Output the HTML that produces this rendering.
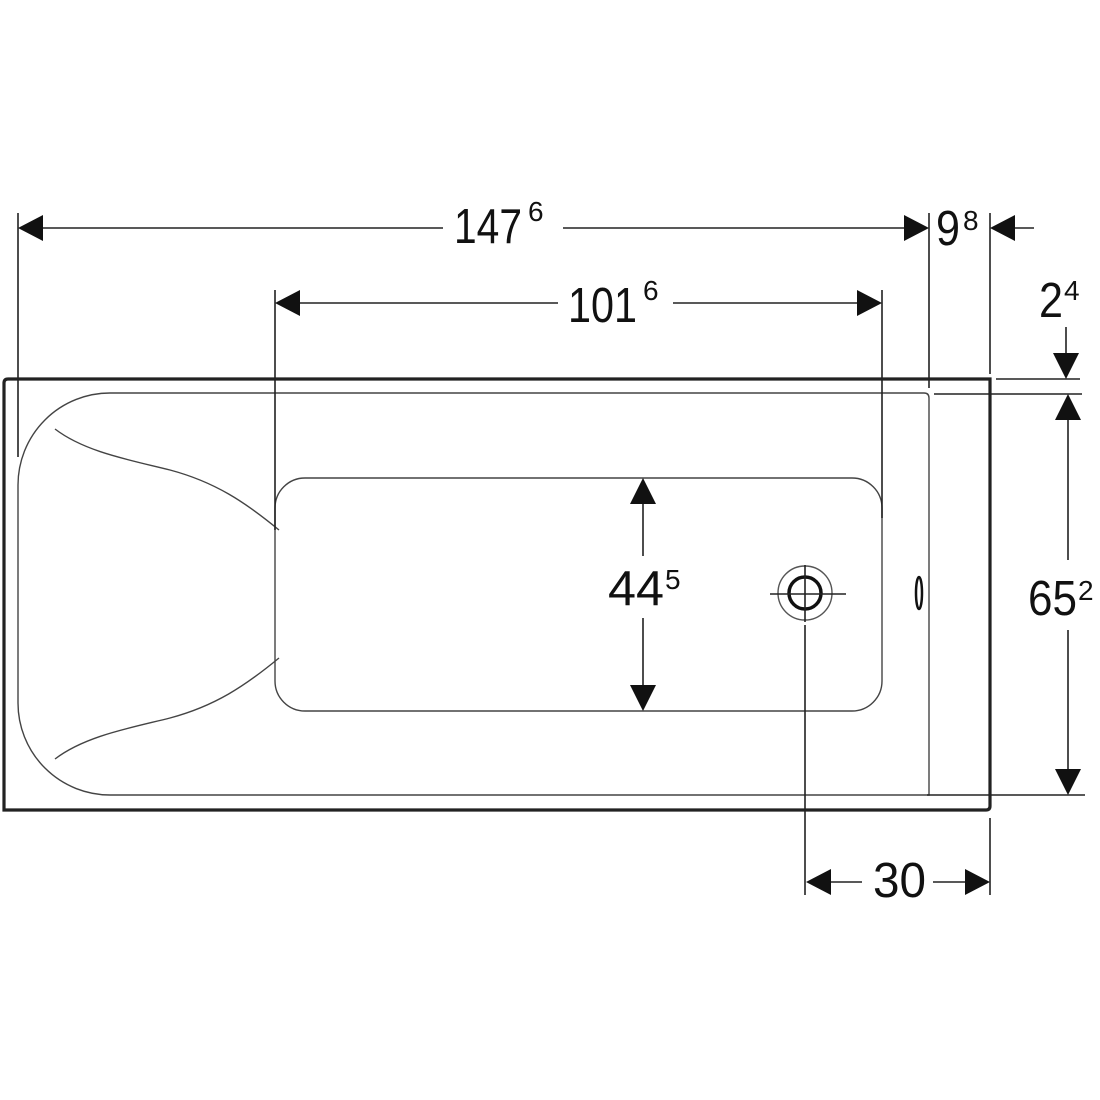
<!DOCTYPE html>
<html><head><meta charset="utf-8"><style>html,body{margin:0;padding:0;background:#fff}svg{display:block}text{font-family:"Liberation Sans",Arial,sans-serif;fill:#111}</style></head>
<body>
<svg width="1100" height="1100" viewBox="0 0 1100 1100" xmlns="http://www.w3.org/2000/svg">
<g fill="none" stroke="#222" stroke-width="1.6">
<path d="M990 379 V806 Q990 810 986 810 H4 V383 Q4 379 8 379 Z" stroke-width="3.2"/>
<path d="M110 393 H924 Q929 393 929 398 V795 H110 A92 92 0 0 1 18 703 V485 A92 92 0 0 1 110 393 Z" stroke="#444" stroke-width="1.4"/>
<rect x="275" y="478" width="607" height="233" rx="30" stroke="#444" stroke-width="1.4"/>
<path d="M55 429 C85 452 130 460 170 470 C215 482 245 502 279 530" stroke="#444" stroke-width="1.4"/>
<path d="M55 759 C85 736 130 728 170 718 C215 706 245 686 279 658" stroke="#444" stroke-width="1.4"/>
<circle cx="805" cy="593" r="27" stroke="#555" stroke-width="1.4"/>
<circle cx="805" cy="593" r="16" stroke="#111" stroke-width="3.5"/>
<line x1="770" y1="594" x2="846" y2="594"/>
<line x1="805" y1="565" x2="805" y2="622"/>
<line x1="805" y1="625" x2="805" y2="895"/>
<ellipse cx="919" cy="593" rx="3" ry="16" stroke="#111" stroke-width="2.5"/>
<line x1="18" y1="213" x2="18" y2="457"/>
<line x1="929" y1="213" x2="929" y2="388"/>
<line x1="990" y1="213" x2="990" y2="374"/>
<line x1="275" y1="290" x2="275" y2="530"/>
<line x1="882" y1="290" x2="882" y2="518"/>
<line x1="990" y1="818" x2="990" y2="895"/>
<line x1="996" y1="379" x2="1080" y2="379"/>
<line x1="934" y1="394" x2="1082" y2="394"/>
<line x1="927" y1="795" x2="1085" y2="795"/>
<line x1="30" y1="228" x2="443" y2="228"/>
<line x1="563" y1="228" x2="905" y2="228"/>
<line x1="1010" y1="228" x2="1034" y2="228"/>
<line x1="290" y1="303" x2="558" y2="303"/>
<line x1="673" y1="303" x2="865" y2="303"/>
<line x1="1066" y1="327" x2="1066" y2="360"/>
<line x1="1068" y1="415" x2="1068" y2="560"/>
<line x1="1068" y1="630" x2="1068" y2="775"/>
<line x1="643" y1="495" x2="643" y2="556"/>
<line x1="643" y1="618" x2="643" y2="695"/>
<line x1="825" y1="882" x2="862" y2="882"/>
<line x1="933" y1="882" x2="970" y2="882"/>
</g>
<g fill="#111">
<polygon points="18,228 43,215 43,241"/>
<polygon points="929,228 904,215 904,241"/>
<polygon points="990,228 1015,215 1015,241"/>
<polygon points="275,303 300,290 300,316"/>
<polygon points="882,303 857,290 857,316"/>
<polygon points="1066,379 1053,353 1079,353"/>
<polygon points="1068,394 1055,420 1081,420"/>
<polygon points="1068,795 1055,769 1081,769"/>
<polygon points="643,478 630,504 656,504"/>
<polygon points="643,711 630,685 656,685"/>
<polygon points="806,882 831,869 831,895"/>
<polygon points="990,882 965,869 965,895"/>
</g>
<g font-size="49">
<text x="454" y="243" textLength="68" lengthAdjust="spacingAndGlyphs">147</text>
<text x="528" y="221" font-size="28">6</text>
<text x="568" y="322" textLength="69" lengthAdjust="spacingAndGlyphs">101</text>
<text x="643" y="300" font-size="28">6</text>
<text x="936" y="245" textLength="24" lengthAdjust="spacingAndGlyphs">9</text>
<text x="963" y="230" font-size="28">8</text>
<text x="1039" y="317" textLength="24" lengthAdjust="spacingAndGlyphs">2</text>
<text x="1064" y="300" font-size="28">4</text>
<text x="608" y="605" textLength="56" lengthAdjust="spacingAndGlyphs">44</text>
<text x="665" y="589" font-size="28">5</text>
<text x="1028" y="615" textLength="49" lengthAdjust="spacingAndGlyphs">65</text>
<text x="1078" y="600" font-size="28">2</text>
<text x="873" y="897" textLength="53" lengthAdjust="spacingAndGlyphs">30</text>
</g>
</svg>
</body></html>
